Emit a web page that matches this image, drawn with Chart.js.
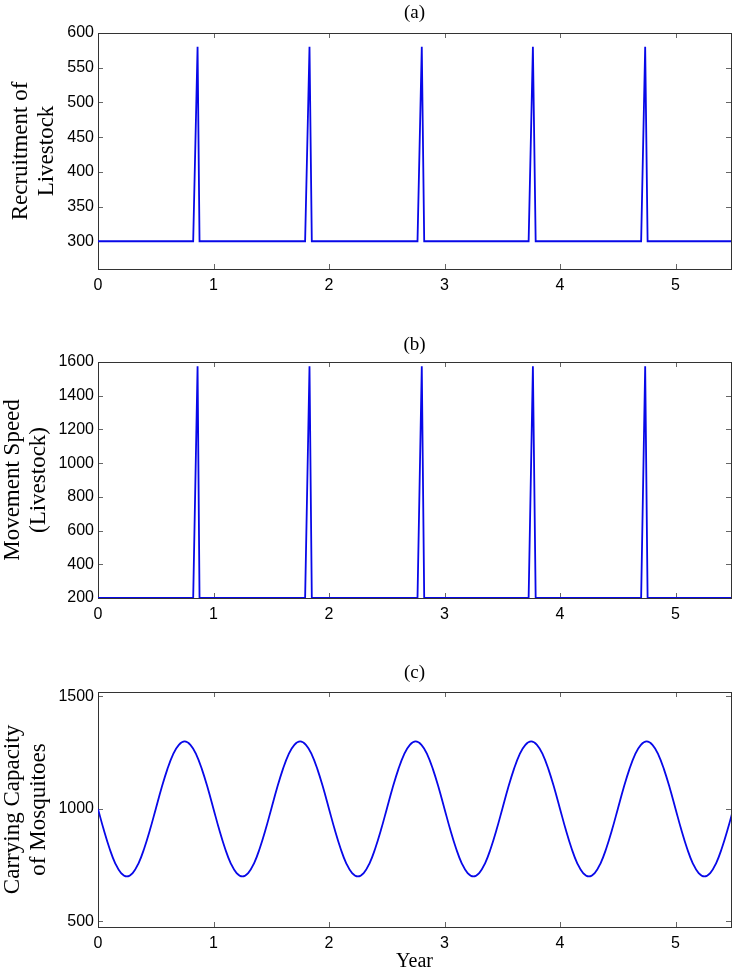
<!DOCTYPE html>
<html><head><meta charset="utf-8">
<script src="https://cdn.jsdelivr.net/npm/chart.js@4"></script>
<style>
html,body{margin:0;padding:0;background:#fff;}
canvas{position:absolute;left:0;display:block;}
</style></head><body>
<canvas id="ca" width="735" height="300" style="top:0px"></canvas>
<canvas id="cb" width="735" height="309" style="top:320px"></canvas>
<canvas id="cc" width="735" height="334" style="top:640px"></canvas>
<script>
// ---- data ----
const xTicks = [0, 1, 2, 3, 4, 5];

const recruitTime  = [0, 0.824, 0.862, 0.879, 1.793, 1.831, 1.851, 2.766, 2.803, 2.824, 3.728, 3.765, 3.789, 4.702, 4.737, 4.758, 5.5];
const recruitValue = [300, 300, 580, 300, 300, 580, 300, 300, 580, 300, 300, 580, 300, 300, 580, 300, 300];
const recruitTicks = [300, 350, 400, 450, 500, 550, 600];

const speedTime  = [0, 0.824, 0.862, 0.879, 1.793, 1.831, 1.851, 2.766, 2.803, 2.824, 3.728, 3.765, 3.789, 4.702, 4.737, 4.758, 5.5];
const speedValue = [200, 200, 1575, 200, 200, 1575, 200, 200, 1575, 200, 200, 1575, 200, 200, 1575, 200, 200];
const speedTicks = [200, 400, 600, 800, 1000, 1200, 1400, 1600];

const capacityTime = [
  0, 0.05, 0.1, 0.15, 0.2, 0.25, 0.3, 0.35, 0.4, 0.45, 0.5, 0.55, 0.6, 0.65, 0.7, 0.75, 0.8, 0.85, 0.9, 0.95,
  1, 1.05, 1.1, 1.15, 1.2, 1.25, 1.3, 1.35, 1.4, 1.45, 1.5, 1.55, 1.6, 1.65, 1.7, 1.75, 1.8, 1.85, 1.9, 1.95,
  2, 2.05, 2.1, 2.15, 2.2, 2.25, 2.3, 2.35, 2.4, 2.45, 2.5, 2.55, 2.6, 2.65, 2.7, 2.75, 2.8, 2.85, 2.9, 2.95,
  3, 3.05, 3.1, 3.15, 3.2, 3.25, 3.3, 3.35, 3.4, 3.45, 3.5, 3.55, 3.6, 3.65, 3.7, 3.75, 3.8, 3.85, 3.9, 3.95,
  4, 4.05, 4.1, 4.15, 4.2, 4.25, 4.3, 4.35, 4.4, 4.45, 4.5, 4.55, 4.6, 4.65, 4.7, 4.75, 4.8, 4.85, 4.9, 4.95,
  5, 5.05, 5.1, 5.15, 5.2, 5.25, 5.3, 5.35, 5.4, 5.45, 5.5];
const capacityValue = [
  1000, 907, 824, 757, 715, 700, 715, 757, 824, 907, 1000, 1093, 1176, 1243, 1285, 1300, 1285, 1243, 1176, 1093,
  1000, 907, 824, 757, 715, 700, 715, 757, 824, 907, 1000, 1093, 1176, 1243, 1285, 1300, 1285, 1243, 1176, 1093,
  1000, 907, 824, 757, 715, 700, 715, 757, 824, 907, 1000, 1093, 1176, 1243, 1285, 1300, 1285, 1243, 1176, 1093,
  1000, 907, 824, 757, 715, 700, 715, 757, 824, 907, 1000, 1093, 1176, 1243, 1285, 1300, 1285, 1243, 1176, 1093,
  1000, 907, 824, 757, 715, 700, 715, 757, 824, 907, 1000, 1093, 1176, 1243, 1285, 1300, 1285, 1243, 1176, 1093,
  1000, 907, 824, 757, 715, 700, 715, 757, 824, 907, 1000];
const capacityTicks = [500, 1000, 1500];

// ---- style ----
const SERIF = "'Liberation Serif', 'Times New Roman', serif";
const SANS = "'Liberation Sans', Arial, sans-serif";
const BLUE = '#0808e8';

const framePlugin = {
  id: 'frame',
  beforeDatasetsDraw(chart) {
    const {ctx, chartArea: a, scales} = chart;
    ctx.save();
    ctx.lineWidth = 1;
    ctx.strokeStyle = '#666';
    const L = 5;
    scales.x.ticks.forEach(t => {
      const px = Math.round(scales.x.getPixelForValue(t.value)) + 0.5;
      ctx.beginPath();
      ctx.moveTo(px, a.bottom); ctx.lineTo(px, a.bottom - L);
      ctx.moveTo(px, a.top); ctx.lineTo(px, a.top + L);
      ctx.stroke();
    });
    scales.y.ticks.forEach(t => {
      const py = Math.round(scales.y.getPixelForValue(t.value)) + 0.5;
      ctx.beginPath();
      ctx.moveTo(a.left, py); ctx.lineTo(a.left + L, py);
      ctx.moveTo(a.right, py); ctx.lineTo(a.right - L, py);
      ctx.stroke();
    });
    ctx.strokeStyle = '#333';
    ctx.strokeRect(Math.round(a.left) + 0.5, Math.round(a.top) + 0.5,
                   Math.round(a.right - a.left), Math.round(a.bottom - a.top));
    ctx.restore();
  }
};

function makePanel(id, p) {
  return new Chart(document.getElementById(id), {
    type: 'line',
    data: { datasets: [{
      data: p.t.map((x, i) => ({x: x, y: p.v[i]})),
      borderColor: BLUE, borderWidth: 1.8, pointRadius: 0,
      tension: p.tension, fill: false
    }]},
    options: {
      responsive: false, animation: false,
      layout: { padding: { top: p.padTop, right: 4, left: 0, bottom: 0 } },
      plugins: {
        legend: { display: false }, tooltip: { enabled: false },
        title: { display: true, text: p.title, fullSize: false, color: '#000',
                 font: { family: SERIF, size: 19, weight: 'normal', lineHeight: 1.2 },
                 padding: { top: 0, bottom: p.titleGap } }
      },
      scales: {
        x: {
          type: 'linear', min: 0, max: 5.48,
          grid: { display: false, drawTicks: false }, border: { display: false },
          ticks: { font: { family: SANS, size: 16 }, color: '#000', padding: 7, maxRotation: 0,
                   callback: v => String(v) },
          afterBuildTicks: s => { s.ticks = xTicks.map(v => ({value: v})); },
          afterFit: s => { s.height = p.xHeight; },
          title: p.xTitle ? { display: true, text: p.xTitle, color: '#000',
                   font: { family: SERIF, size: 20, lineHeight: 1.2 }, padding: { top: 0, bottom: 0 } }
                 : { display: false }
        },
        y: {
          type: 'linear', min: p.ymin, max: p.ymax,
          grid: { display: false, drawTicks: false }, border: { display: false },
          ticks: { font: { family: SANS, size: 16 }, color: '#000', padding: 4,
                   callback: v => String(v) },
          afterBuildTicks: s => { s.ticks = p.yTicks.map(v => ({value: v})); },
          afterFit: s => { s.width = 98; },
          title: { display: true, text: p.yTitle, color: '#000',
                   font: { family: SERIF, size: 23, lineHeight: 1.13 },
                   padding: { top: p.yTitlePad, bottom: 0 } }
        }
      }
    },
    plugins: [framePlugin]
  });
}

makePanel('ca', { t: recruitTime, v: recruitValue, tension: 0, title: '(a)',
  padTop: 1.2, titleGap: 9.0, xHeight: 31, ymin: 260, ymax: 600, yTicks: recruitTicks,
  yTitle: ['Recruitment of', 'Livestock'], yTitlePad: 8 });
makePanel('cb', { t: speedTime, v: speedValue, tension: 0, title: '(b)',
  padTop: 13.2, titleGap: 6.0, xHeight: 31, ymin: 200, ymax: 1600, yTicks: speedTicks,
  yTitle: ['Movement Speed', '(Livestock)'], yTitlePad: 0 });
makePanel('cc', { t: capacityTime, v: capacityValue, tension: 0.4, title: '(c)',
  padTop: 21.2, titleGap: 8.0, xHeight: 47, ymin: 475, ymax: 1520, yTicks: capacityTicks,
  yTitle: ['Carrying Capacity', 'of Mosquitoes'], yTitlePad: 0, xTitle: 'Year' });
</script>
</body></html>
